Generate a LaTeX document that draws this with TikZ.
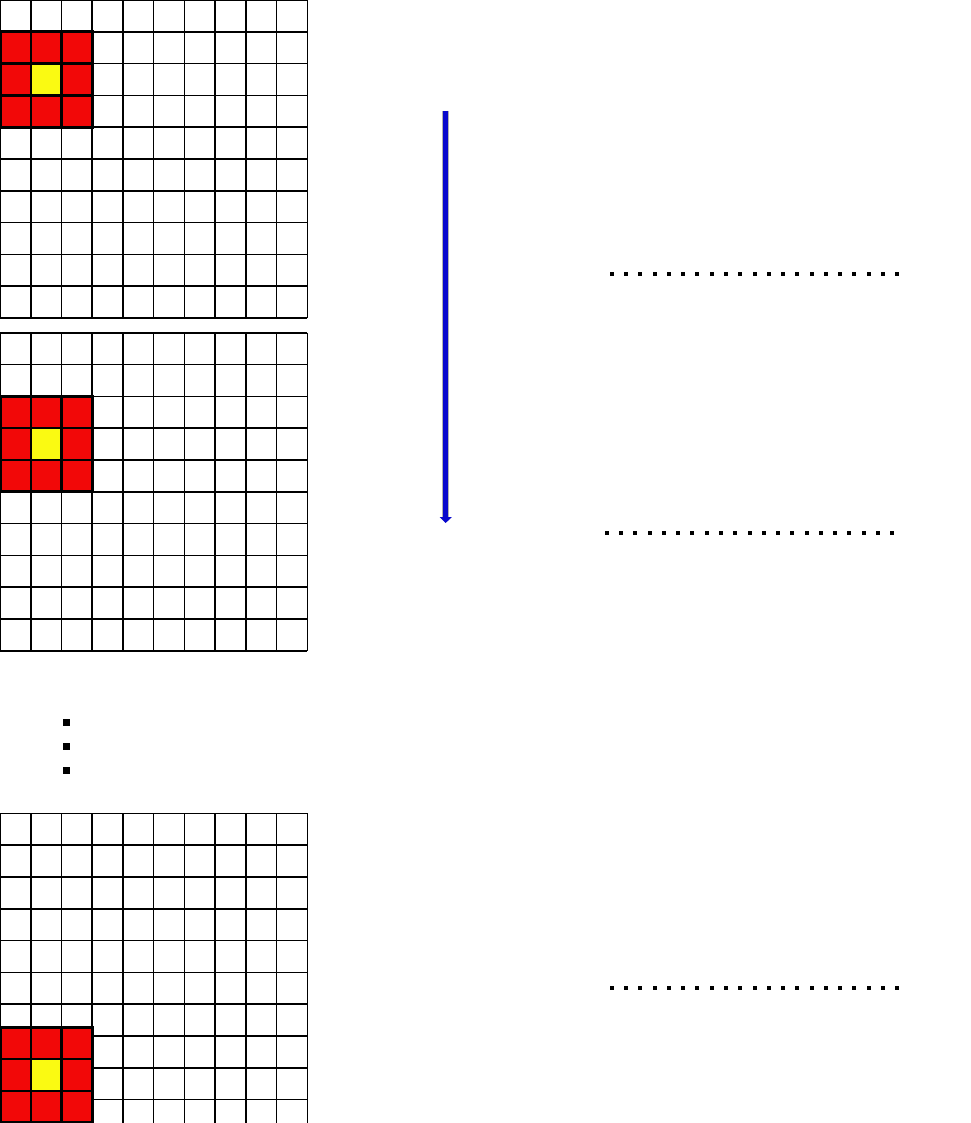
\documentclass[tikz,border=0pt]{standalone}
\usepackage{tikz}
\usetikzlibrary{arrows.meta,positioning,calc}
\definecolor{cellred}{RGB}{242,8,8}
\definecolor{cellyellow}{RGB}{250,250,18}
\definecolor{scanblue}{RGB}{8,8,205}
\tikzset{
  gridline/.style={line width=1.6pt,black},
  blockline/.style={line width=2.4pt,black},
  blockframe/.style={line width=3pt,black},
}

\begin{document}
\begin{tikzpicture}[x=1pt,y=-1pt]
\useasboundingbox (0,0) rectangle (970,1123);

\begin{scope}
\clip (0,0) rectangle (970,1123);
\foreach \gy/\by in {0/31.8, 332.7/63.6, 813.3/214}{
  \foreach \i in {0,...,10}
    \draw[gridline] (\i*30.73,\gy) -- (\i*30.73,\gy+318);
  \foreach \j in {0,...,10}
    \draw[gridline] (0,\gy+\j*31.8) -- (307.3,\gy+\j*31.8);
  % 3x3 window
  \fill[cellred] (0,\gy+\by) rectangle (92.2,\gy+\by+95.4);
  \fill[cellyellow] (30.73,\gy+\by+31.8) rectangle (61.46,\gy+\by+63.6);
  \foreach \k in {1,2}{
    \draw[blockline] (\k*30.73,\gy+\by) -- (\k*30.73,\gy+\by+95.4);
    \draw[blockline] (0,\gy+\by+\k*31.8) -- (92.2,\gy+\by+\k*31.8);
  }
  \draw[blockframe] (0,\gy+\by) rectangle (92.2,\gy+\by+95.4);
}
\end{scope}

\foreach \vy in {722.7,746.7,770.7}
  \fill (62.5,\vy-3.5) rectangle ++(7,7);

\coordinate (scanstart) at (445.7,111);
\coordinate (scanend) at (445.7,523);
\draw[line width=6.5pt,gray!60] (scanstart) -- ($(scanend)+(0,-6)$);
\draw[line width=4.6pt,scanblue,-{Triangle[width=12pt,length=6pt]}] (scanstart) -- (scanend);

\foreach \ry/\rx in {274.3/611.7, 533.3/606.7, 987.7/611.7}
  \foreach \d in {0,...,20}
    \fill (\rx+\d*14.28-2,\ry-2) rectangle ++(4,4);
\end{tikzpicture}
\end{document}
